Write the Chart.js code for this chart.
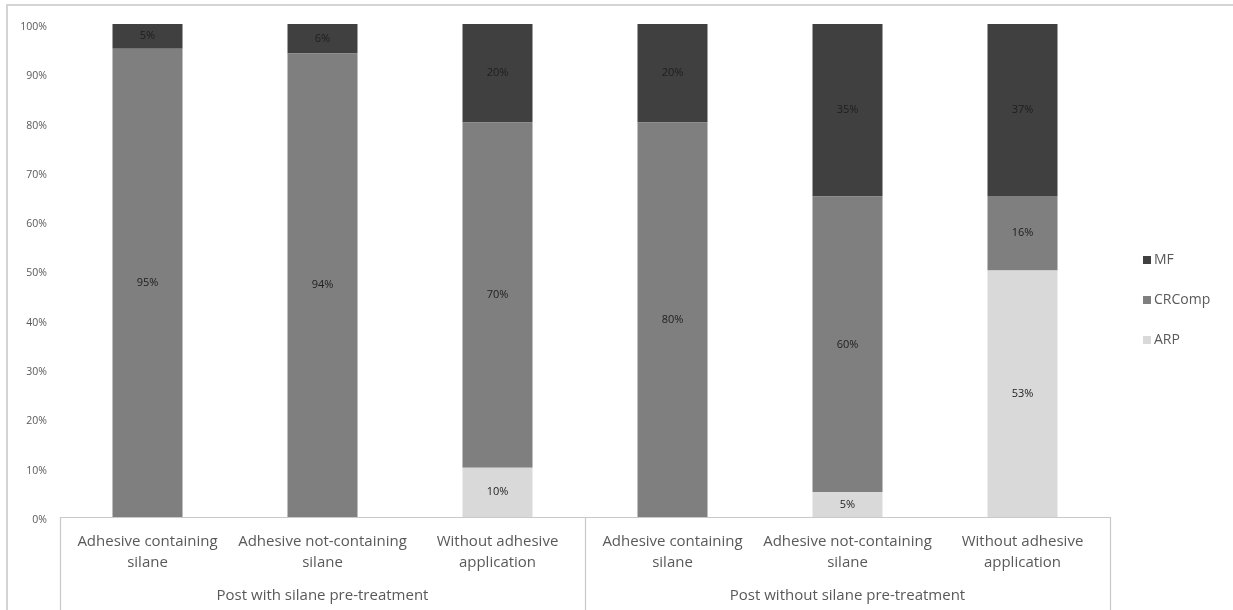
<!DOCTYPE html>
<html>
<head>
<meta charset="utf-8">
<script src="https://cdn.jsdelivr.net/npm/chart.js@4.4.1/dist/chart.umd.min.js"></script>
<style>
  html, body { margin: 0; padding: 0; background: #fff; }
  #wrap { width: 1233px; height: 610px; }
</style>
</head>
<body>
<div id="wrap"><canvas id="failureChart" width="1233" height="610"></canvas></div>
<script>
  // data (labels are the raw percentages, bars are 100% stacked)
  const categories = [
    ['Adhesive containing', 'silane'],
    ['Adhesive not-containing', 'silane'],
    ['Without adhesive', 'application'],
    ['Adhesive containing', 'silane'],
    ['Adhesive not-containing', 'silane'],
    ['Without adhesive', 'application']
  ];
  const groups = ['Post with silane pre-treatment', 'Post without silane pre-treatment'];
  const groupSize = 3;

  const arpValues = [0, 0, 10, 0, 5, 53];
  const crcompValues = [95, 94, 70, 80, 60, 16];
  const mfValues = [5, 6, 20, 20, 35, 37];

  const yTickStep = 10;
  const yMax = 100;

  const FONT = '"Open Sans", "Noto Sans", sans-serif';
  const TEXT = '#595959';
  const LINE = '#c9c9c9';

  const totals = arpValues.map((v, i) => v + crcompValues[i] + mfValues[i]);
  const share = (arr) => arr.map((v, i) => (v / totals[i]) * 100);

  // frame, multi-level axis box, group labels and legend
  const framePlugin = {
    id: 'frame',
    beforeDraw(chart) {
      const ctx = chart.ctx;
      ctx.save();
      ctx.fillStyle = '#fff';
      ctx.fillRect(0, 0, chart.width, chart.height);
      ctx.strokeStyle = '#d4d4d4';
      ctx.lineWidth = 2;
      ctx.strokeRect(7, 5, chart.width + 20, chart.height + 20);
      ctx.restore();
    },
    afterDraw(chart) {
      const ctx = chart.ctx;
      const x = chart.scales.x;
      const area = chart.chartArea;
      const half = (x.getPixelForValue(1) - x.getPixelForValue(0)) / 2;
      ctx.save();
      ctx.strokeStyle = LINE;
      ctx.lineWidth = 1.2;
      ctx.beginPath();
      ctx.moveTo(area.left, area.bottom + 0.5);
      ctx.lineTo(area.right, area.bottom + 0.5);
      const edges = [0];
      for (let g = 1; g <= groups.length; g++) edges.push(g * groupSize);
      edges.forEach((idx) => {
        const px = Math.round(x.getPixelForValue(idx) - half) + 0.5;
        ctx.moveTo(px, area.bottom);
        ctx.lineTo(px, chart.height);
      });
      ctx.stroke();

      ctx.fillStyle = TEXT;
      ctx.font = '15px ' + FONT;
      ctx.textAlign = 'center';
      ctx.textBaseline = 'middle';
      groups.forEach((name, g) => {
        const mid = (x.getPixelForValue(g * groupSize) + x.getPixelForValue(g * groupSize + groupSize - 1)) / 2;
        ctx.fillText(name, mid, 596);
      });

      // legend, top entry is the top segment
      const legendItems = chart.data.datasets.slice().reverse();
      ctx.textAlign = 'left';
      ctx.font = '14px ' + FONT;
      legendItems.forEach((ds, i) => {
        const ly = 260 + i * 40;
        ctx.fillStyle = ds.backgroundColor;
        ctx.fillRect(1143, ly - 4, 8, 8);
        ctx.fillStyle = TEXT;
        ctx.fillText(ds.label, 1154, ly);
      });
      ctx.restore();
    }
  };

  // raw value labels centred in each segment
  const segmentLabels = {
    id: 'segmentLabels',
    afterDatasetsDraw(chart) {
      const ctx = chart.ctx;
      ctx.save();
      ctx.font = '11px ' + FONT;
      ctx.fillStyle = '#1e1e1e';
      ctx.textAlign = 'center';
      ctx.textBaseline = 'middle';
      chart.data.datasets.forEach((ds, di) => {
        const meta = chart.getDatasetMeta(di);
        meta.data.forEach((bar, i) => {
          const raw = ds.rawValues[i];
          if (!raw) return;
          const p = bar.getProps(['x', 'y', 'base'], true);
          ctx.fillText(raw + '%', p.x, (p.y + p.base) / 2);
        });
      });
      ctx.restore();
    }
  };

  new Chart(document.getElementById('failureChart'), {
    type: 'bar',
    data: {
      labels: categories,
      datasets: [
        { label: 'ARP', data: share(arpValues), rawValues: arpValues, backgroundColor: '#d9d9d9' },
        { label: 'CRComp', data: share(crcompValues), rawValues: crcompValues, backgroundColor: '#7f7f7f' },
        { label: 'MF', data: share(mfValues), rawValues: mfValues, backgroundColor: '#404040' }
      ]
    },
    options: {
      responsive: false,
      devicePixelRatio: 1,
      animation: false,
      layout: { padding: { top: 24, right: 123, left: 0, bottom: 0 } },
      datasets: { bar: { categoryPercentage: 1, barPercentage: 0.4, borderWidth: 0 } },
      plugins: {
        legend: { display: false },
        tooltip: { enabled: false }
      },
      scales: {
        x: {
          stacked: true,
          grid: { display: false, drawTicks: false },
          border: { display: false },
          ticks: { color: TEXT, font: { family: FONT, size: 15, lineHeight: 1.35 }, padding: 15, maxRotation: 0, autoSkip: false },
          afterFit(scale) { scale.height = 93; }
        },
        y: {
          stacked: true,
          min: 0,
          max: yMax,
          grid: { display: false, drawTicks: false },
          border: { display: false },
          ticks: {
            stepSize: yTickStep,
            color: TEXT,
            font: { family: FONT, size: 10.5 },
            padding: 13,
            labelOffset: 3,
            callback: (v) => v + '%'
          },
          afterFit(scale) { scale.width = 60; }
        }
      }
    },
    plugins: [framePlugin, segmentLabels]
  });
</script>
</body>
</html>
